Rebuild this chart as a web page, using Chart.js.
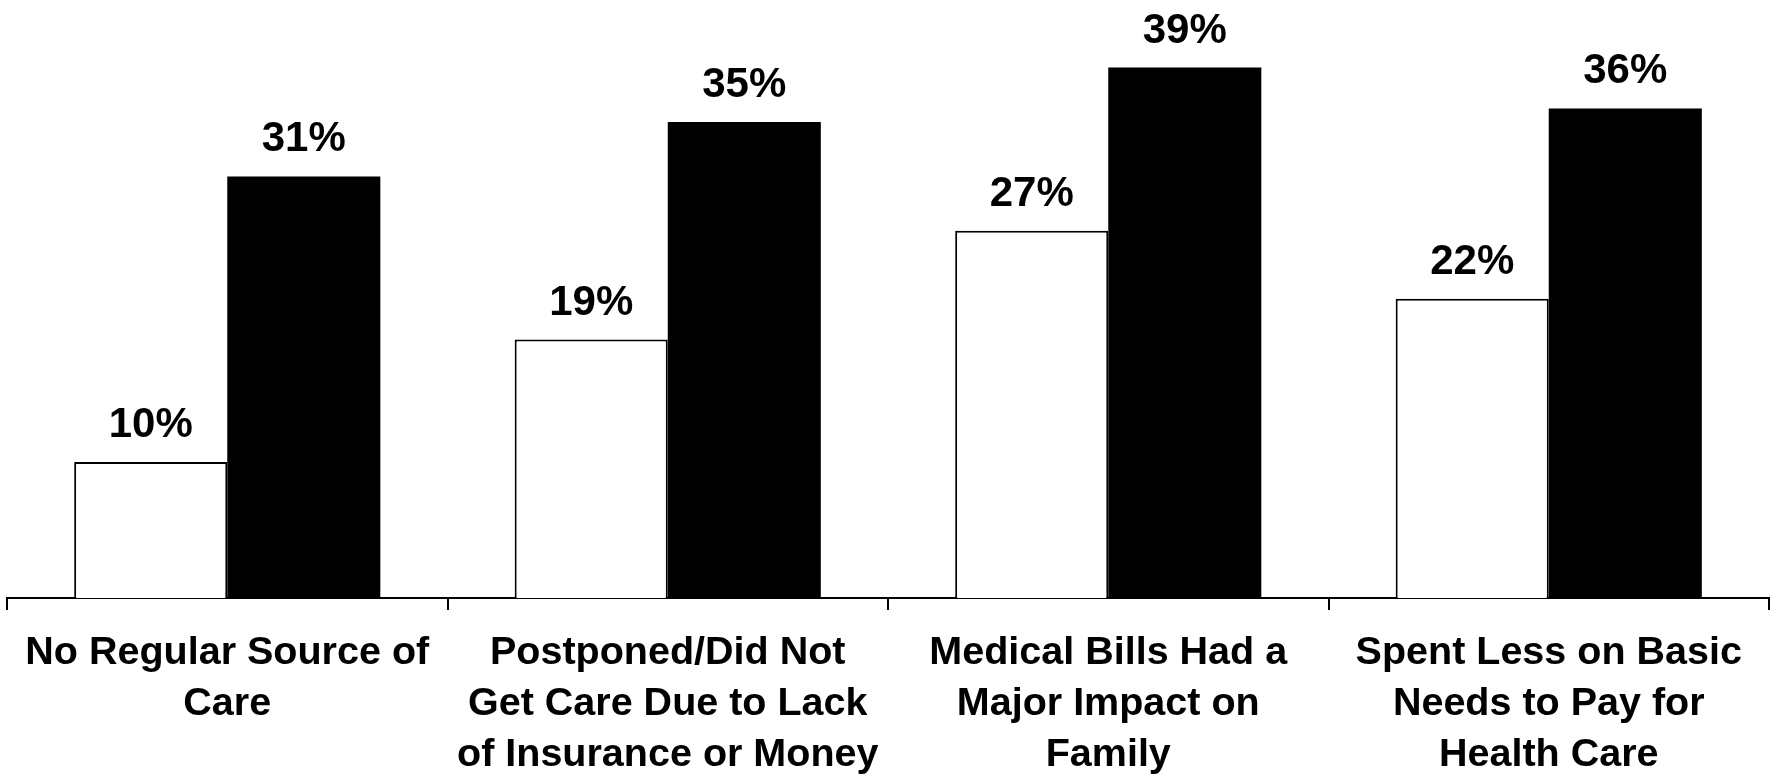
<!DOCTYPE html>
<html>
<head>
<meta charset="utf-8">
<script src="https://cdn.jsdelivr.net/npm/chart.js@4"></script>
<style>
  html, body { margin: 0; padding: 0; background: #fff; overflow: hidden; }
  #wrap { width: 1772px; height: 798px; position: relative; }
</style>
</head>
<body>
<div id="wrap"><canvas id="chart"></canvas></div>
<script>
const categories = [
  ["No Regular Source of", "Care"],
  ["Postponed/Did Not", "Get Care Due to Lack", "of Insurance or Money"],
  ["Medical Bills Had a", "Major Impact on", "Family"],
  ["Spent Less on Basic", "Needs to Pay for", "Health Care"]
];
const whiteValues = [10, 19, 27, 22];
const blackValues = [31, 35, 39, 36];

const FONT = "'Liberation Sans', Arial, sans-serif";

// draws "31%" style labels above each bar
const valueLabels = {
  id: "valueLabels",
  afterDatasetsDraw(chart) {
    const ctx = chart.ctx;
    ctx.save();
    ctx.font = "bold 42px " + FONT;
    ctx.fillStyle = "#000";
    ctx.textAlign = "center";
    ctx.textBaseline = "alphabetic";
    chart.data.datasets.forEach((ds, i) => {
      chart.getDatasetMeta(i).data.forEach((bar, j) => {
        ctx.fillText(ds.data[j] + "%", bar.x, bar.y - 25);
      });
    });
    ctx.restore();
  }
};

new Chart(document.getElementById("chart"), {
  type: "bar",
  data: {
    labels: categories,
    datasets: [
      {
        data: whiteValues,
        backgroundColor: "#fff",
        borderColor: "#000",
        borderWidth: 2,
        categoryPercentage: 0.695,
        barPercentage: 1
      },
      {
        data: blackValues,
        backgroundColor: "#000",
        borderColor: "#000",
        borderWidth: 0,
        categoryPercentage: 0.695,
        barPercentage: 1
      }
    ]
  },
  options: {
    responsive: true,
    maintainAspectRatio: false,
    animation: false,
    layout: { padding: { top: 54, left: 7, right: 3, bottom: 0 } },
    plugins: { legend: { display: false }, tooltip: { enabled: false } },
    scales: {
      y: { display: false, min: 0, max: 40 },
      x: {
        border: { display: true, color: "#000", width: 2 },
        grid: { drawOnChartArea: false, color: "#000", lineWidth: 2, tickLength: 12 },
        ticks: {
          color: "#000",
          padding: 17,
          maxRotation: 0,
          autoSkip: false,
          font: { family: FONT, size: 39.5, weight: "bold", lineHeight: 1.3 }
        }
      }
    }
  },
  plugins: [valueLabels]
});
</script>
</body>
</html>
